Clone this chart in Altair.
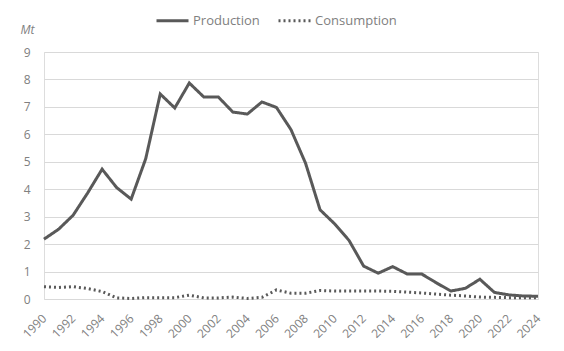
import altair as alt
import pandas as pd

years = list(range(1990, 2025))
production = [2.18, 2.54, 3.05, 3.86, 4.73, 4.06, 3.64, 5.11, 7.47, 6.96,
              7.87, 7.36, 7.36, 6.81, 6.74, 7.18, 6.98, 6.17, 4.95, 3.25,
              2.74, 2.13, 1.20, 0.94, 1.18, 0.91, 0.91, 0.59, 0.29, 0.39,
              0.72, 0.24, 0.15, 0.11, 0.10]
consumption = [0.45, 0.42, 0.45, 0.38, 0.27, 0.04, 0.02, 0.05, 0.05, 0.05,
               0.14, 0.04, 0.04, 0.07, 0.02, 0.06, 0.33, 0.21, 0.21, 0.31,
               0.29, 0.29, 0.29, 0.29, 0.28, 0.25, 0.22, 0.18, 0.14, 0.11,
               0.07, 0.06, 0.05, 0.05, 0.04]
series = ["Production", "Consumption"]
year_ticks = list(range(1990, 2025, 2))
y_ticks = list(range(0, 10))

rows = []
for y, p, c in zip(years, production, consumption):
    rows.append({"year": y, "series": series[0], "value": p})
    rows.append({"year": y, "series": series[1], "value": c})
df = pd.DataFrame(rows)

gray = "#808080"
font = "Open Sans"

chart = alt.Chart(df).mark_line(strokeWidth=3, color="#595959", strokeJoin="miter").encode(
    x=alt.X("year:Q",
            scale=alt.Scale(domain=[1990, 2024], nice=False, zero=False),
            axis=alt.Axis(values=year_ticks, format="d", labelAngle=-45,
                          labelAlign="right", labelBaseline="middle",
                          labelPadding=17, grid=False, domain=False, ticks=False,
                          title=None, labelColor=gray, labelFontSize=12,
                          labelFont=font, labelOverlap=False)),
    y=alt.Y("value:Q",
            scale=alt.Scale(domain=[0, 9], nice=False),
            axis=alt.Axis(values=y_ticks, format="d", grid=True, gridColor="#d9d9d9",
                          domain=False, ticks=False, labelPadding=14,
                          labelColor=gray, labelFontSize=12, labelFont=font,
                          title="Mt", titleAngle=0, titleX=-24, titleY=-16,
                          titleAlign="left", titleFontStyle="italic",
                          titleFontWeight="normal", titleColor=gray,
                          titleFontSize=12, titleFont=font)),
    strokeDash=alt.StrokeDash("series:N",
                              scale=alt.Scale(domain=series, range=[[1, 0], [2, 3]]),
                              legend=alt.Legend(title=None, orient="none",
                                                direction="horizontal",
                                                legendX=111, legendY=-49,
                                                symbolType="stroke",
                                                symbolSize=1024,
                                                symbolStrokeWidth=3,
                                                symbolStrokeColor="#595959",
                                                labelFontSize=13, labelFont=font,
                                                labelColor=gray, labelOffset=3,
                                                columnPadding=12)),
    order="year:Q",
).properties(
    width=494, height=247,
    autosize=alt.AutoSizeParams(type="none"),
    padding={"left": 44, "top": 52, "right": 26, "bottom": 52},
).configure_view(stroke=None).configure(background="white")

chart.save("out.html", embed_options={"renderer": "svg", "actions": False})
